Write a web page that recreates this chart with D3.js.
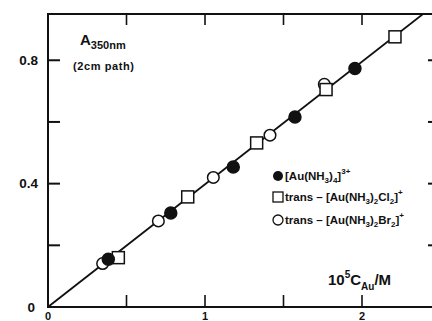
<!DOCTYPE html>
<html>
<head>
<meta charset="utf-8">
<script src="https://cdn.jsdelivr.net/npm/d3@7"></script>
<style>
  body { margin: 0; background: #fff; }
  svg { display: block; font-family: "Liberation Sans", Arial, sans-serif; }
</style>
</head>
<body>
<svg id="chart" width="432" height="321"></svg>
<script>
// data
const tetraammine = [[0.384, 0.155], [0.782, 0.305], [1.180, 0.454], [1.573, 0.616], [1.955, 0.773]];
const dichloro = [[0.448, 0.160], [0.890, 0.357], [1.329, 0.532], [1.771, 0.705], [2.210, 0.876]];
const dibromo = [[0.348, 0.141], [0.703, 0.279], [1.053, 0.420], [1.414, 0.557], [1.760, 0.722]];
const fitSlope = 0.3977;
const yTicks = [0.2, 0.4, 0.6, 0.8];
const yLabels = [0, 0.4, 0.8];
const xTicks = [0.5, 1, 1.5, 2];
const xLabels = [0, 1, 2];

const svg = d3.select("#chart");
const padL = 48, padB = 307, padT = 14, padR = 440;

let x = d3.scaleLinear().domain([0, 2.5]).range([padL, padL + 2.5 * 157]);
let y = d3.scaleLinear().domain([0, 0.95]).range([padB, padT]);

const ink = "#111";

svg.append("clipPath").attr("id", "frame")
  .append("rect").attr("x", padL).attr("y", padT)
  .attr("width", padR - padL).attr("height", padB - padT);

// frame
svg.append("rect")
  .attr("x", padL).attr("y", padT)
  .attr("width", padR - padL).attr("height", padB - padT)
  .attr("fill", "none").attr("stroke", ink).attr("stroke-width", 2);

// ticks pointing inward
const tk = 12;
svg.append("g").selectAll("line").data(yTicks).join("line")
  .attr("x1", padL).attr("x2", padL + tk)
  .attr("y1", d => y(d)).attr("y2", d => y(d))
  .attr("stroke", ink).attr("stroke-width", 2);
svg.append("g").selectAll("line").data(yTicks).join("line")
  .attr("x1", padR).attr("x2", padR - tk)
  .attr("y1", d => y(d)).attr("y2", d => y(d))
  .attr("stroke", ink).attr("stroke-width", 2);
svg.append("g").selectAll("line").data(xTicks).join("line")
  .attr("x1", d => x(d)).attr("x2", d => x(d))
  .attr("y1", padB).attr("y2", padB - tk)
  .attr("stroke", ink).attr("stroke-width", 1.6);
svg.append("g").selectAll("line").data(xTicks).join("line")
  .attr("x1", d => x(d)).attr("x2", d => x(d))
  .attr("y1", padT).attr("y2", padT + 11)
  .attr("stroke", ink).attr("stroke-width", 1.6);

// tick labels
svg.append("g").selectAll("text").data(yLabels).join("text")
  .attr("x", d => d === 0 ? 35 : 38).attr("y", d => y(d)).attr("dy", "0.36em")
  .attr("text-anchor", "end")
  .attr("font-size", 13.5).attr("font-weight", "bold").attr("fill", ink)
  .text(d => d === 0 ? "0" : d3.format(".1f")(d));
svg.append("g").selectAll("text").data(xLabels).join("text")
  .attr("x", d => x(d)).attr("y", 320)
  .attr("text-anchor", "middle")
  .attr("font-size", 11).attr("font-weight", "bold").attr("fill", ink)
  .text(d => d);

// fitted line
svg.append("line")
  .attr("clip-path", "url(#frame)")
  .attr("x1", x(0)).attr("y1", y(0))
  .attr("x2", x(2.5)).attr("y2", y(2.5 * fitSlope))
  .attr("stroke", ink).attr("stroke-width", 1.8);

// markers
const pts = svg.append("g").attr("stroke", ink).attr("stroke-width", 1.5);
pts.selectAll(".br").data(dibromo).join("circle")
  .attr("cx", d => x(d[0])).attr("cy", d => y(d[1])).attr("r", 5.8)
  .attr("fill", "#fff");
pts.selectAll(".cl").data(dichloro).join("rect")
  .attr("x", d => x(d[0]) - 6).attr("y", d => y(d[1]) - 6)
  .attr("width", 12).attr("height", 12)
  .attr("fill", "#fff");
pts.selectAll(".am").data(tetraammine).join("circle")
  .attr("cx", d => x(d[0])).attr("cy", d => y(d[1])).attr("r", 6)
  .attr("fill", ink);

// y title
const ya = svg.append("text").attr("x", 80).attr("y", 45)
  .attr("font-weight", "bold").attr("fill", ink);
ya.append("tspan").attr("font-size", 15).text("A");
ya.append("tspan").attr("font-size", 11).attr("dy", 4).text("350nm");
svg.append("text").attr("x", 73).attr("y", 70)
  .attr("font-size", 11).attr("font-weight", "bold").attr("fill", ink)
  .attr("letter-spacing", 0.6)
  .text("(2cm path)");

// x title
const xa = svg.append("text").attr("x", 328).attr("y", 285)
  .attr("font-weight", "bold").attr("font-size", 15).attr("fill", ink);
xa.append("tspan").text("10");
xa.append("tspan").attr("font-size", 10).attr("dy", -7).text("5");
xa.append("tspan").attr("dy", 7).text("C");
xa.append("tspan").attr("font-size", 10).attr("dy", 5).text("Au");
xa.append("tspan").attr("dy", -5).text("/M");

// legend
const lg = svg.append("g").attr("font-size", 11.5).attr("font-weight", "bold").attr("fill", ink);
lg.append("circle").attr("cx", 278).attr("cy", 176).attr("r", 5).attr("fill", ink);
lg.append("rect").attr("x", 273).attr("y", 192).attr("width", 10).attr("height", 10)
  .attr("fill", "#fff").attr("stroke", ink).attr("stroke-width", 1.3);
lg.append("circle").attr("cx", 278).attr("cy", 220).attr("r", 5)
  .attr("fill", "#fff").attr("stroke", ink).attr("stroke-width", 1.3);

function entry(yy, prefix, parts) {
  const t = lg.append("text").attr("x", 285).attr("y", yy);
  if (prefix) t.append("tspan").text(prefix);
  parts.forEach(p => {
    const s = t.append("tspan").text(p[0]);
    if (p[1] === "sub") s.attr("font-size", 8).attr("dy", 3);
    if (p[1] === "up") s.attr("dy", -3);
    if (p[1] === "sup") s.attr("font-size", 8).attr("dy", -6);
  });
}
entry(180, "", [["[Au(NH"], ["3", "sub"], [")", "up"], ["4", "sub"], ["]", "up"], ["3+", "sup"]]);
entry(201, "trans \u2013 ", [["[Au(NH"], ["3", "sub"], [")", "up"], ["2", "sub"], ["Cl", "up"], ["2", "sub"], ["]", "up"], ["+", "sup"]]);
entry(224, "trans \u2013 ", [["[Au(NH"], ["3", "sub"], [")", "up"], ["2", "sub"], ["Br", "up"], ["2", "sub"], ["]", "up"], ["+", "sup"]]);
</script>
</body>
</html>
